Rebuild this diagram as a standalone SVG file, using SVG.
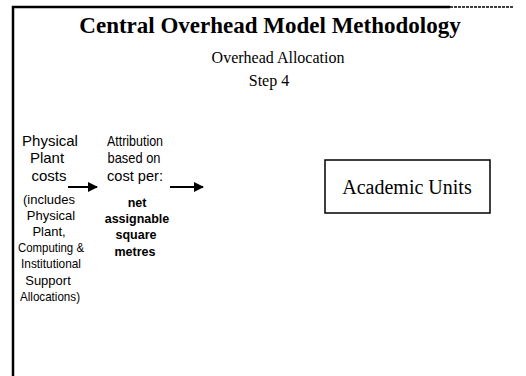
<svg xmlns="http://www.w3.org/2000/svg" width="526" height="376" viewBox="0 0 526 376">
  <style>
    .title { font-family: "Liberation Serif", serif; font-weight: bold; font-size: 23px; fill: #000; }
    .sub { font-family: "Liberation Serif", serif; font-size: 16px; fill: #000; }
    .lbl { font-family: "Liberation Sans", Arial, sans-serif; font-size: 15px; fill: #000; }
    .note { font-family: "Liberation Sans", Arial, sans-serif; font-size: 13px; fill: #000; }
    .bold { font-family: "Liberation Sans", Arial, sans-serif; font-weight: bold; font-size: 12.5px; fill: #000; }
    .unit { font-family: "Liberation Serif", serif; font-size: 20px; fill: #000; }
    .frame { stroke: #000; stroke-width: 2.5; fill: none; }
    .edge { stroke: #000; stroke-width: 2; fill: none; }
  </style>
  <defs>
    <marker id="head" viewBox="0 0 10 10" refX="9" refY="5" markerWidth="5" markerHeight="5" orient="auto" markerUnits="strokeWidth">
      <path d="M0,0 L10,5 L0,10 Z" fill="#000"/>
    </marker>
  </defs>
  <rect width="526" height="376" fill="#fff"/>

  <!-- slide frame: top and left rules -->
  <g id="frame">
    <path class="frame" d="M13,376 V7 H450"/>
    <path d="M450,7 H514" stroke="#000" stroke-width="1.5" stroke-dasharray="3 1"/>
  </g>

  <!-- heading -->
  <g id="heading" text-anchor="middle">
    <text class="title" x="270" y="33">Central Overhead Model Methodology</text>
    <text class="sub" x="278" y="63">Overhead Allocation</text>
    <text class="sub" x="269" y="86">Step 4</text>
  </g>

  <!-- source costs -->
  <g id="physical-plant" text-anchor="middle">
    <text class="lbl" x="50" y="146">Physical</text>
    <text class="lbl" x="47" y="163">Plant</text>
    <text class="lbl" x="49" y="181">costs</text>
    <text class="note" x="49" y="204">(includes</text>
    <text class="note" x="51" y="220">Physical</text>
    <text class="note" x="49" y="236">Plant,</text>
    <text class="note" x="51" y="252" textLength="66" lengthAdjust="spacingAndGlyphs">Computing &amp;</text>
    <text class="note" x="51" y="268" textLength="60" lengthAdjust="spacingAndGlyphs">Institutional</text>
    <text class="note" x="48" y="285">Support</text>
    <text class="note" x="50" y="301" textLength="60" lengthAdjust="spacingAndGlyphs">Allocations)</text>
  </g>

  <!-- allocation basis -->
  <g id="attribution" text-anchor="middle">
    <text class="lbl" x="135" y="146" textLength="56" lengthAdjust="spacingAndGlyphs">Attribution</text>
    <text class="lbl" x="134" y="163" textLength="53" lengthAdjust="spacingAndGlyphs">based on</text>
    <text class="lbl" x="135" y="181" textLength="56" lengthAdjust="spacingAndGlyphs">cost per:</text>
    <text class="bold" x="137" y="207">net</text>
    <text class="bold" x="137" y="223">assignable</text>
    <text class="bold" x="136" y="239">square</text>
    <text class="bold" x="135" y="256">metres</text>
  </g>

  <!-- target -->
  <g id="academic-units">
    <rect x="325" y="160" width="165" height="53" fill="#fff" stroke="#000" stroke-width="1.5"/>
    <text class="unit" x="407" y="194" text-anchor="middle">Academic Units</text>
  </g>

  <!-- connectors -->
  <g id="connectors">
    <path class="edge" d="M68,187 H97" marker-end="url(#head)"/>
    <path class="edge" d="M170,187 H203" marker-end="url(#head)"/>
  </g>
</svg>
